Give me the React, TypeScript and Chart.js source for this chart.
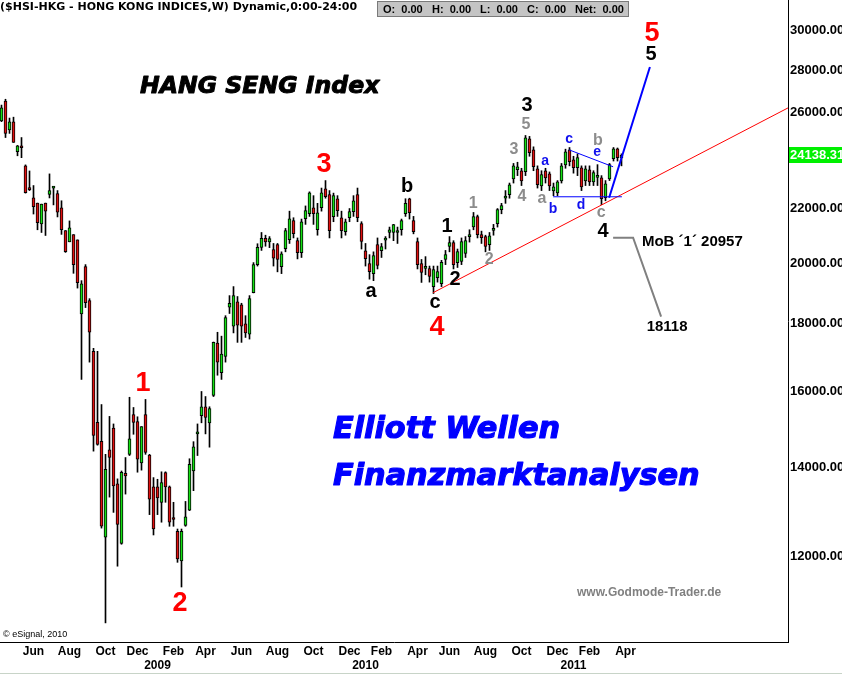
import React, { useEffect, useRef } from 'react';
import { Chart, registerables } from 'chart.js';

Chart.register(...registerables);

// ---- weekly OHLC of the Hang Seng index (first bar = week of 2 May 2008) ----
const opens = [
  25630, 26530, 25230, 25590, 24290, 24540, 23700, 22780, 22410, 22210,
  21420, 22210, 22550, 22800, 22580, 22030, 21170, 20760, 21020, 20830,
  18310, 19880, 18740, 17150, 15150, 14660, 12400, 14440, 15000, 13610,
  12270, 13860, 14330, 15360, 15170, 14120, 15360, 14310, 13540, 13540,
  13180, 13880, 13540, 12800, 12530, 11900, 12660, 13000, 13920, 14850,
  15330, 15570, 15140, 15880, 17400, 16520, 17000, 18520, 17920, 18700,
  18600, 17990, 17670, 19000, 19950, 20560, 20890, 20760, 20480, 20660,
  19880, 20510, 20840, 21540, 20800, 20370, 21610, 21800, 22030, 21200,
  22030, 22770, 22540, 21690, 22380, 21650, 21130, 21650, 21880, 22540,
  21430, 20440, 19990, 19640, 20660, 20440, 20820, 21100, 21100, 21100,
  21200, 21800, 22380, 21540, 20770, 19990, 19820, 19810, 19200, 19500,
  19300, 20130, 20590, 20730, 20020, 20060, 20340, 20950, 21310, 21690,
  21020, 20950, 20660, 21180, 21430, 21960, 22400, 22540, 23170, 23540,
  23500, 23460, 24840, 24370, 23580, 22890, 23500, 23370, 22690, 22610,
  23090, 23740, 24370, 23950, 23620, 23620, 23090, 23540, 23050, 23230,
  23210, 22420, 23170, 24000, 24410, 24040,
];
const highs = [
  26350, 26620, 25760, 25800, 24560, 24900, 23740, 23490, 22900, 22210,
  22170, 22210, 23370, 22860, 22700, 22300, 21170, 21530, 21020, 20830,
  19400, 19950, 18800, 17240, 17150, 15630, 14330, 15310, 15110, 13730,
  13920, 14250, 15830, 15550, 15300, 15040, 15770, 14330, 13760, 13720,
  13900, 13900, 13560, 13180, 12580, 12580, 13200, 14220, 14650, 15110,
  15990, 15850, 15570, 17430, 17730, 17610, 18250, 18900, 19200, 18870,
  18650, 18250, 18900, 20020, 20690, 21100, 21000, 20950, 20700, 20700,
  20400, 21250, 21900, 21650, 20900, 21600, 22100, 22650, 22500, 22200,
  22800, 23100, 22700, 22600, 22500, 21900, 21600, 22000, 22500, 22800,
  21500, 20700, 20300, 20400, 20900, 20700, 20950, 21300, 21400, 21300,
  21600, 22380, 22400, 21700, 20900, 20130, 20230, 19900, 19900, 19900,
  20100, 20450, 20950, 20800, 20500, 20900, 20950, 21200, 21850, 21750,
  21150, 21000, 21100, 21400, 22000, 22200, 22700, 23000, 23800, 23850,
  23600, 24990, 24950, 24500, 23700, 23500, 23600, 23450, 23000, 23100,
  23800, 24400, 24470, 24100, 24200, 23700, 23700, 23700, 23500, 23750,
  23300, 23100, 23800, 24470, 24450, 24200,
];
const lows = [
  25600, 24900, 25080, 24690, 24120, 24040, 22600, 22700, 21790, 21200,
  21100, 20990, 22410, 22140, 21680, 21030, 20380, 20760, 19650, 19150,
  16330, 18510, 16830, 14410, 14560, 12600, 10680, 13300, 12950, 11790,
  12250, 13370, 14300, 14840, 13890, 13940, 14330, 12900, 12450, 12900,
  12730, 13180, 12640, 12640, 11870, 11370, 12640, 12990, 13450, 14300,
  15140, 14850, 14510, 15850, 16450, 16330, 16830, 18320, 17710, 17420,
  17420, 17570, 17520, 18990, 19900, 20450, 20600, 20550, 19900, 19700,
  19640, 20400, 20700, 20900, 20150, 20200, 21400, 21700, 21400, 21000,
  21900, 22400, 20900, 21500, 21700, 20900, 21000, 21500, 21700, 21500,
  20500, 19900, 19450, 19400, 19800, 20200, 20500, 20900, 20800, 20700,
  21000, 21700, 21600, 21050, 19800, 19340, 19600, 19350, 18970, 19350,
  19200, 19950, 20400, 19800, 19850, 19950, 20200, 20750, 21200, 20900,
  20700, 20400, 20450, 21000, 21300, 21800, 22200, 22400, 23000, 23300,
  22900, 23300, 24100, 23500, 22800, 22700, 23000, 22700, 22500, 22500,
  23000, 23600, 23700, 23400, 23300, 22700, 22900, 22900, 22900, 22900,
  22150, 22300, 23100, 23900, 23900, 23700,
];
const closes = [
  26220, 25080, 25590, 24690, 24540, 24460, 22620, 22740, 22070, 21460,
  22170, 21900, 22700, 22820, 21860, 21200, 20410, 21270, 19950, 19330,
  19290, 18670, 17730, 14810, 14580, 12640, 13960, 14250, 13560, 12680,
  13890, 13800, 14720, 15150, 14210, 15040, 14380, 13250, 12580, 13280,
  13640, 13540, 12730, 12790, 11940, 12530, 12850, 14080, 14520, 14880,
  15570, 15280, 15520, 17420, 16830, 17070, 18190, 18650, 18900, 17950,
  17920, 17710, 18800, 19950, 20560, 20890, 20760, 20880, 20180, 20130,
  20330, 21170, 21610, 21060, 20370, 21500, 21920, 22610, 21800, 21840,
  22610, 22460, 21170, 22500, 21920, 21170, 21500, 21880, 22300, 21650,
  20770, 20160, 19710, 20270, 19920, 20590, 20860, 21200, 21390, 21150,
  21540, 22200, 21840, 21130, 19950, 19680, 19850, 19540, 19780, 19710,
  20030, 20300, 20730, 19950, 20410, 20770, 20800, 20980, 21690, 21020,
  20910, 20590, 20980, 21220, 21960, 22110, 22440, 22930, 23700, 23660,
  23090, 24890, 24250, 23670, 22930, 23340, 23210, 22890, 22850, 23050,
  23700, 24290, 23870, 23620, 24040, 22850, 23580, 23050, 23420, 23270,
  22380, 22970, 23750, 24410, 24040, 24138.31,
];

// ---- axes ----
const monthTickIdx = [8, 17, 26, 34, 43, 51, 60, 69, 78, 87, 95, 104, 112, 121, 130, 139, 147, 156];
const monthLabels = ['Jun', 'Aug', 'Oct', 'Dec', 'Feb', 'Apr', 'Jun', 'Aug', 'Oct', 'Dec', 'Feb', 'Apr', 'Jun', 'Aug', 'Oct', 'Dec', 'Feb', 'Apr'];
const yearTickIdx = [39, 91, 143];
const yearLabels = ['2009', '2010', '2011'];
const priceTicks = [12000, 14000, 16000, 18000, 20000, 22000, 24000, 26000, 28000, 30000];
const lastPrice = 24138.31;

// ---- Elliott wave labels: [text, week index, index level, style] ----
const waveLabels: [string, number, number, string][] = [
  ['1', 35.4, 16211, 'red'],
  ['2', 44.6, 11049, 'red'],
  ['3', 80.6, 23747, 'red'],
  ['4', 108.9, 17873, 'red'],
  ['5', 162.6, 29830, 'red'],
  ['5', 162.4, 28757, 'black'],
  ['3', 131.4, 26314, 'black'],
  ['b', 101.4, 22848, 'black'],
  ['a', 92.4, 19031, 'black'],
  ['1', 111.4, 21310, 'black'],
  ['2', 113.4, 19436, 'black'],
  ['c', 108.4, 18670, 'black'],
  ['4', 150.4, 21126, 'black'],
  ['5', 131.1, 25456, 'gray'],
  ['3', 128.1, 24371, 'gray'],
  ['4', 130.1, 22456, 'gray'],
  ['a', 135.1, 22377, 'gray'],
  ['1', 117.9, 22183, 'gray'],
  ['2', 121.9, 20126, 'gray'],
  ['b', 149.1, 24757, 'gray'],
  ['c', 149.9, 21839, 'gray'],
  ['a', 135.9, 23909, 'blue'],
  ['c', 141.9, 24842, 'blue'],
  ['e', 148.9, 24288, 'blue'],
  ['b', 137.9, 21990, 'blue'],
  ['d', 144.9, 22146, 'blue'],
];
// trend / pattern lines: [week index, level] pairs
const trendLine: [number, number][] = [[107.9, 18997], [196.625, 26220]];
const triangleLower: [number, number][] = [[137.9, 22456], [155.1, 22456]];
const triangleUpper: [number, number][] = [[141.9, 24371], [152.9, 23662]];
const wave5Line: [number, number][] = [[151.9, 22415], [162.1, 28162]];
const targetLine: [number, number][] = [[152.9, 20908], [157.9, 20908], [164.9, 18221]];
const mobText = 'MoB \u00B41\u00B4 20957';
const mobAt: [number, number] = [160.1, 20762];
const targetText = '18118';
const targetAt: [number, number] = [166.4, 17904];

const GREEN = '#14e014';
const RED = '#e01010';
const ARIAL = 'Arial, "Liberation Sans", sans-serif';
const DEJAVU = '"DejaVu Sans", Verdana, sans-serif';

const styleFont: Record<string, string> = {
  red: `bold 27px ${ARIAL}`,
  black: `bold 20px ${ARIAL}`,
  gray: `bold 16px ${ARIAL}`,
  blue: `bold 14px ${ARIAL}`,
};
const styleColor: Record<string, string> = {
  red: '#ff0000',
  black: '#000000',
  gray: '#8c8c8c',
  blue: '#1010ee',
};

const heavyText = (ctx: any, t: string, x: number, y: number, color: string, w: number) => {
  ctx.fillStyle = color;
  ctx.strokeStyle = color;
  ctx.lineWidth = w;
  ctx.lineJoin = 'round';
  ctx.strokeText(t, x, y);
  ctx.fillText(t, x, y);
};

const overlayPlugin = {
  id: 'overlay',
  afterDraw(chart: any) {
    const { ctx } = chart;
    const xs = chart.scales.x;
    const ys = chart.scales.y;
    const px = (i: number) => xs.getPixelForValue(i);
    const py = (v: number) => ys.getPixelForValue(v);
    const poly = (pts: [number, number][], color: string, w: number) => {
      ctx.beginPath();
      pts.forEach(([i, v], k) => (k === 0 ? ctx.moveTo(px(i), py(v)) : ctx.lineTo(px(i), py(v))));
      ctx.strokeStyle = color;
      ctx.lineWidth = w;
      ctx.stroke();
    };
    ctx.save();

    // header
    ctx.fillStyle = '#000';
    ctx.font = `bold 11px ${DEJAVU}`;
    ctx.textAlign = 'left';
    ctx.textBaseline = 'alphabetic';
    ctx.fillText('($HSI-HKG - HONG KONG INDICES,W) Dynamic,0:00-24:00', 0, 10);

    ctx.fillStyle = '#c4c4c4';
    ctx.fillRect(377, 1, 252, 16);
    ctx.strokeStyle = '#7a7a7a';
    ctx.lineWidth = 1;
    ctx.strokeRect(377.5, 1.5, 251, 15);
    ctx.fillStyle = '#000';
    ctx.font = `bold 11px ${ARIAL}`;
    ctx.textBaseline = 'middle';
    ctx.fillText('O:  0.00', 383, 9.5);
    ctx.fillText('H:  0.00', 432, 9.5);
    ctx.fillText('L:  0.00', 480, 9.5);
    ctx.fillText('C:  0.00', 527, 9.5);
    ctx.fillText('Net:  0.00', 575, 9.5);

    // lines
    poly(trendLine, '#ff0000', 1);
    poly(triangleLower, '#0000ff', 1);
    poly(triangleUpper, '#0000ff', 1);
    poly(wave5Line, '#0000ff', 2);
    poly(targetLine, '#808080', 2);

    // wave labels
    ctx.textAlign = 'center';
    ctx.textBaseline = 'middle';
    waveLabels.forEach(([t, i, v, s]) => {
      ctx.font = styleFont[s];
      ctx.fillStyle = styleColor[s];
      ctx.fillText(t, px(i), py(v));
    });
    ctx.fillStyle = '#000';
    ctx.font = `bold 15px ${ARIAL}`;
    ctx.textAlign = 'left';
    ctx.fillText(mobText, px(mobAt[0]), py(mobAt[1]));
    ctx.textAlign = 'center';
    ctx.fillText(targetText, px(targetAt[0]), py(targetAt[1]));

    // big captions
    ctx.textAlign = 'left';
    ctx.textBaseline = 'alphabetic';
    ctx.font = `italic bold 23.6px ${DEJAVU}`;
    heavyText(ctx, 'HANG SENG Index', 140, 93, '#000', 1);
    ctx.font = `italic bold 30.3px ${DEJAVU}`;
    heavyText(ctx, 'Elliott Wellen', 333, 438, '#0000ff', 1.2);
    heavyText(ctx, 'Finanzmarktanalysen', 333, 485, '#0000ff', 1.2);

    ctx.fillStyle = '#808080';
    ctx.font = `bold 12px ${ARIAL}`;
    ctx.textBaseline = 'middle';
    ctx.fillText('www.Godmode-Trader.de', 577, 593);
    ctx.fillStyle = '#000';
    ctx.font = `9px ${ARIAL}`;
    ctx.fillText('\u00A9 eSignal, 2010', 3, 635);

    // last price marker on the axis
    const yl = Math.round(py(lastPrice));
    ctx.fillStyle = '#00f000';
    ctx.fillRect(789, yl - 8, 53, 16);
    ctx.fillStyle = '#ffffff';
    ctx.font = `bold 13px ${ARIAL}`;
    ctx.textAlign = 'left';
    ctx.fillText(lastPrice.toFixed(2), 790, yl + 0.5);

    // window frame line
    ctx.fillStyle = '#c8d4c8';
    ctx.fillRect(0, 673, 842, 1);
    ctx.restore();
  },
};

export default function App() {
  const ref = useRef<HTMLCanvasElement>(null);
  useEffect(() => {
    if (!ref.current) return;
    const idx = closes.map((_, i) => i);
    const bodies = idx.map((i) => ({ x: i, y: [opens[i], closes[i]] }));
    const wicks = idx.map((i) => ({ x: i, y: [lows[i], highs[i]] }));
    const bodyColors = idx.map((i) => (closes[i] >= opens[i] ? GREEN : RED));
    const labelFor = (v: number) => {
      const m = monthTickIdx.indexOf(v);
      if (m >= 0) return monthLabels[m];
      const y = yearTickIdx.indexOf(v);
      if (y >= 0) return ['', yearLabels[y]];
      return '';
    };
    const chart = new Chart(ref.current, {
      type: 'bar',
      data: {
        datasets: [
          {
            data: bodies as any,
            backgroundColor: bodyColors,
            borderColor: '#000',
            borderWidth: 1,
            borderSkipped: false,
            barThickness: 3,
            minBarLength: 2,
            grouped: false,
          } as any,
          {
            data: wicks as any,
            backgroundColor: '#000',
            borderWidth: 0,
            barThickness: 1,
            grouped: false,
          } as any,
        ],
      },
      options: {
        animation: false,
        responsive: false,
        maintainAspectRatio: false,
        layout: { padding: 0 },
        plugins: { legend: { display: false }, tooltip: { enabled: false }, title: { display: false } },
        scales: {
          x: {
            type: 'linear',
            min: -0.375,
            max: 196.625,
            offset: false,
            grid: { display: false, drawTicks: false },
            border: { display: true, color: '#000', width: 1 },
            afterBuildTicks: (s: any) => {
              s.ticks = [...monthTickIdx, ...yearTickIdx].sort((a, b) => a - b).map((v) => ({ value: v }));
            },
            afterFit: (s: any) => {
              s.height = 34;
              s.paddingLeft = 0;
              s.paddingRight = 0;
            },
            ticks: {
              autoSkip: false,
              maxRotation: 0,
              minRotation: 0,
              padding: 2,
              color: '#000',
              font: { family: ARIAL, size: 12, weight: 'bold', lineHeight: 1.2 },
              callback: (v: any) => labelFor(Number(v)),
            },
          },
          y: {
            type: 'logarithmic',
            position: 'right',
            min: 10330,
            max: 31650,
            grid: { display: false, drawTicks: false },
            border: { display: true, color: '#000', width: 1 },
            afterBuildTicks: (s: any) => {
              s.ticks = priceTicks.map((v) => ({ value: v }));
            },
            afterFit: (s: any) => {
              s.width = 54;
              s.paddingTop = 0;
              s.paddingBottom = 0;
            },
            ticks: {
              padding: 2,
              color: '#000',
              font: { family: ARIAL, size: 13, weight: 'bold' },
              callback: (v: any) => Number(v).toFixed(2),
            },
          },
        },
      } as any,
      plugins: [overlayPlugin],
    });
    return () => chart.destroy();
  }, []);
  return (
    <div style={{ position: 'fixed', left: 0, top: 0, width: 842, height: 676, background: '#fff' }}>
      <canvas ref={ref} width={842} height={676} style={{ width: 842, height: 676, display: 'block' }} />
    </div>
  );
}
